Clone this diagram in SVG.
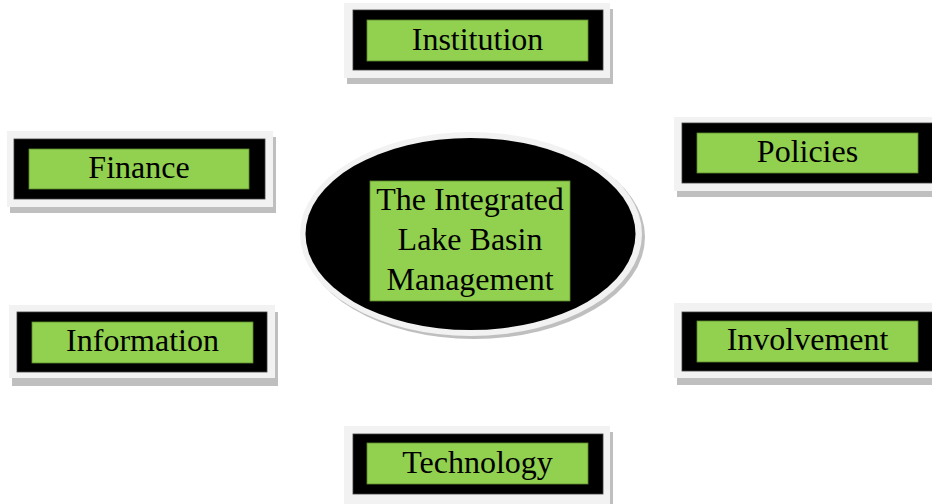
<svg xmlns="http://www.w3.org/2000/svg" width="932" height="504" viewBox="0 0 932 504">
  <style>
    .shadow { fill: #bfbfbf; }
    .frame { fill: #f2f2f2; }
    .band { fill: #000000; stroke: #404040; stroke-width: 0.8; }
    .label-bg { fill: #92d050; stroke: #5e8a2e; stroke-width: 0.8; }
    .label { font-family: "Liberation Serif", "Times New Roman", serif; font-size: 32px; fill: #000000; text-anchor: middle; }
  </style>
  <rect width="932" height="504" fill="#ffffff"/>

  <!-- central hub -->
  <g id="hub">
    <ellipse cx="474" cy="237" rx="171" ry="102" class="shadow"/>
    <ellipse cx="471" cy="234" rx="171" ry="102" class="frame"/>
    <ellipse cx="470.5" cy="234" rx="165" ry="96" fill="#000000"/>
    <rect x="370" y="181" width="200" height="120" class="label-bg"/>
    <text class="label" x="470" y="210">The Integrated</text>
    <text class="label" x="470" y="250">Lake Basin</text>
    <text class="label" x="470" y="290">Management</text>
  </g>

  <g id="connectors"/>

  <g id="institution">
    <rect x="347" y="9" width="266" height="75" class="shadow"/>
    <rect x="344" y="3" width="266" height="75" class="frame"/>
    <rect x="353" y="10" width="250" height="60" class="band"/>
    <rect x="367" y="20" width="221" height="41" class="label-bg"/>
    <text class="label" x="477.5" y="50">Institution</text>
  </g>

  <g id="finance">
    <rect x="10" y="137" width="266" height="76" class="shadow"/>
    <rect x="7" y="131" width="266" height="76" class="frame"/>
    <rect x="14" y="139" width="251" height="60" class="band"/>
    <rect x="29" y="149" width="220" height="40" class="label-bg"/>
    <text class="label" x="139" y="178">Finance</text>
  </g>

  <g id="information">
    <rect x="12" y="312" width="266" height="74" class="shadow"/>
    <rect x="9" y="305" width="266" height="73" class="frame"/>
    <rect x="17" y="312" width="250" height="60" class="band"/>
    <rect x="32" y="322" width="221" height="41" class="label-bg"/>
    <text class="label" x="142.5" y="351">Information</text>
  </g>

  <g id="policies">
    <rect x="677" y="123" width="270" height="74" class="shadow"/>
    <rect x="674" y="117" width="270" height="74" class="frame"/>
    <rect x="682" y="123" width="260" height="60" class="band"/>
    <rect x="697" y="133" width="221" height="40" class="label-bg"/>
    <text class="label" x="807.5" y="162">Policies</text>
  </g>

  <g id="involvement">
    <rect x="677" y="310" width="270" height="75" class="shadow"/>
    <rect x="674" y="303" width="270" height="75" class="frame"/>
    <rect x="682" y="312" width="260" height="59" class="band"/>
    <rect x="697" y="321" width="221" height="41" class="label-bg"/>
    <text class="label" x="807.5" y="350">Involvement</text>
  </g>

  <g id="technology">
    <rect x="347" y="432" width="266" height="80" class="shadow"/>
    <rect x="344" y="426" width="266" height="80" class="frame"/>
    <rect x="353" y="434" width="250" height="60" class="band"/>
    <rect x="367" y="443" width="221" height="41" class="label-bg"/>
    <text class="label" x="477.5" y="473">Technology</text>
  </g>
</svg>
